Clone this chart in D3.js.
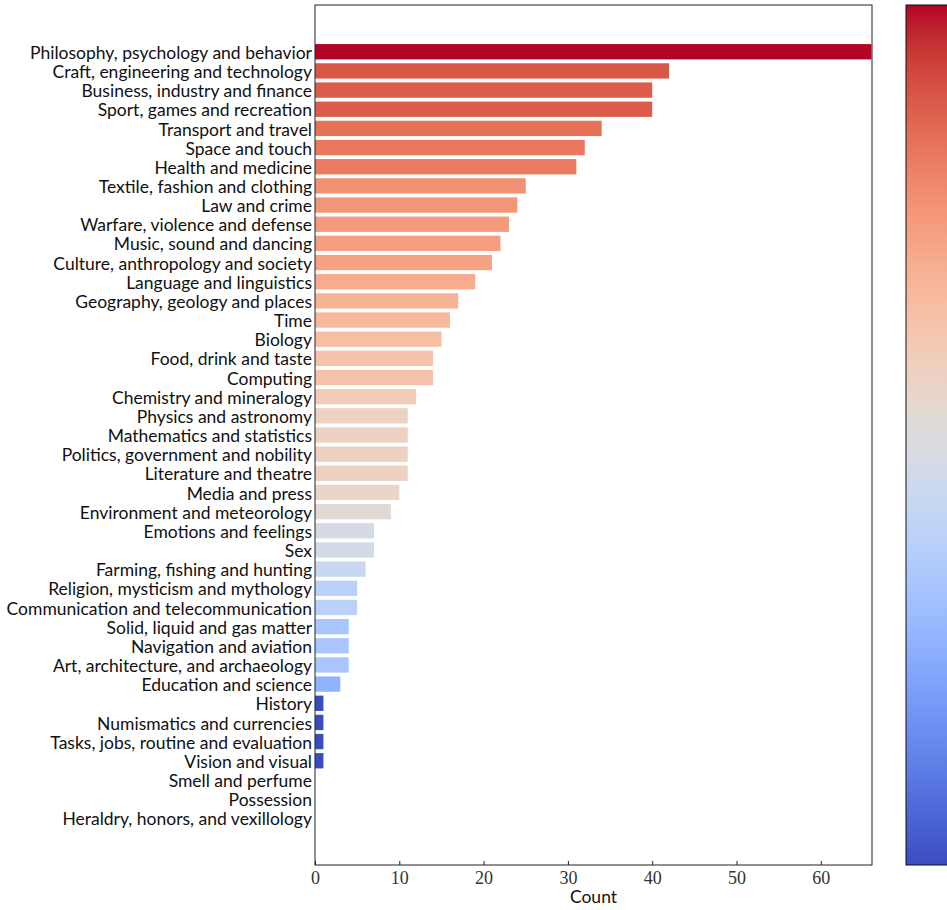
<!DOCTYPE html>
<html>
<head>
<meta charset="utf-8">
<script src="https://cdn.jsdelivr.net/npm/d3@7"></script>
<style>
  html, body { margin: 0; padding: 0; background: #fff; }
  svg { display: block; }
</style>
</head>
<body>
<svg id="chart" width="947" height="910"></svg>
<script>
// Topic categories, ordered from most to least frequent
const categories = [
  "Philosophy, psychology and behavior",
  "Craft, engineering and technology",
  "Business, industry and finance",
  "Sport, games and recreation",
  "Transport and travel",
  "Space and touch",
  "Health and medicine",
  "Textile, fashion and clothing",
  "Law and crime",
  "Warfare, violence and defense",
  "Music, sound and dancing",
  "Culture, anthropology and society",
  "Language and linguistics",
  "Geography, geology and places",
  "Time",
  "Biology",
  "Food, drink and taste",
  "Computing",
  "Chemistry and mineralogy",
  "Physics and astronomy",
  "Mathematics and statistics",
  "Politics, government and nobility",
  "Literature and theatre",
  "Media and press",
  "Environment and meteorology",
  "Emotions and feelings",
  "Sex",
  "Farming, fishing and hunting",
  "Religion, mysticism and mythology",
  "Communication and telecommunication",
  "Solid, liquid and gas matter",
  "Navigation and aviation",
  "Art, architecture, and archaeology",
  "Education and science",
  "History",
  "Numismatics and currencies",
  "Tasks, jobs, routine and evaluation",
  "Vision and visual",
  "Smell and perfume",
  "Possession",
  "Heraldry, honors, and vexillology"
];

const counts = [
  66, 42, 40, 40, 34, 32, 31, 25, 24, 23, 22, 21, 19, 17, 16, 15, 14, 14,
  12, 11, 11, 11, 11, 10, 9, 7, 7, 6, 5, 5, 4, 4, 4, 3, 1, 1, 1, 1, 0, 0, 0
];

const xTicks = [0, 10, 20, 30, 40, 50, 60];
const xMax = 66.07;

// Moreland cool-warm diverging colormap control points
const coolwarmStops = [
  "#3b4cc0", "#445acc", "#4d68d7", "#5775e1", "#6282ea", "#6c8ef1",
  "#779af7", "#82a5fb", "#8db0fe", "#98b9ff", "#a3c2ff", "#aec9fd",
  "#b8d0f9", "#c2d5f4", "#ccd9ee", "#d5dbe6", "#dddddd", "#e5d8d1",
  "#ecd3c5", "#f1ccb9", "#f5c4ad", "#f7bba0", "#f7b194", "#f7a687",
  "#f49a7b", "#f18d6f", "#ec7f63", "#e57058", "#de604d", "#d55042",
  "#cb3e38", "#c0282f", "#b40426"
];
const coolwarm = d3.interpolateRgbBasis(coolwarmStops);

const svg = d3.select("#chart");

const plot = { left: 315, right: 872, top: 5, bottom: 865 };

const x = d3.scaleLinear().domain([0, xMax]).range([plot.left, plot.right]);
const y = d3.scaleBand()
  .domain(categories)
  .range([plot.top, plot.bottom])
  .paddingInner(0.2)
  .paddingOuter(2.04);

// Log-scaled colour normalisation between 1 and the maximum count
const logNorm = d3.scaleLog().domain([1, d3.max(counts)]).range([0, 1]).clamp(true);
const colorFor = v => coolwarm(logNorm(Math.max(v, 1)));

const labelFont = "'Lato', 'Liberation Sans', sans-serif";
const tickFont = "'Liberation Serif', 'DejaVu Serif', serif";

// Clip so bars stay within the axes frame
svg.append("defs").append("clipPath").attr("id", "plot-clip")
  .append("rect")
  .attr("x", plot.left).attr("y", plot.top)
  .attr("width", plot.right - plot.left).attr("height", plot.bottom - plot.top);

const data = categories.map((c, i) => ({ c, v: counts[i] }));

svg.append("g").attr("clip-path", "url(#plot-clip)")
  .selectAll("rect")
  .data(data.filter(d => d.v > 0))
  .join("rect")
  .attr("x", x(0))
  .attr("y", d => y(d.c))
  .attr("width", d => x(d.v) - x(0))
  .attr("height", y.bandwidth())
  .attr("fill", d => colorFor(d.v));

// Axes frame
svg.append("rect")
  .attr("x", plot.left).attr("y", plot.top)
  .attr("width", plot.right - plot.left).attr("height", plot.bottom - plot.top)
  .attr("fill", "none")
  .attr("stroke", "#222")
  .attr("stroke-width", 1);

// Category labels (no tick marks)
const yAxis = d3.axisLeft(y).tickSize(0).tickPadding(3);
const gy = svg.append("g").attr("transform", `translate(${plot.left},1.5)`).call(yAxis);
gy.select(".domain").remove();
gy.selectAll("text")
  .attr("font-family", labelFont)
  .attr("font-size", 17.5)
  .attr("fill", "#111");

// Bottom axis with inward ticks
const xAxis = d3.axisBottom(x).tickValues(xTicks).tickSize(-4)
  .tickFormat(d3.format("d"));
const gx = svg.append("g").attr("transform", `translate(0,${plot.bottom})`).call(xAxis);
gx.select(".domain").remove();
gx.selectAll("line").attr("stroke", "#222");
gx.selectAll("text")
  .attr("y", 19)
  .attr("dy", null)
  .attr("font-family", tickFont)
  .attr("font-size", 18)
  .attr("fill", "#333");

svg.append("text")
  .attr("x", (plot.left + plot.right) / 2)
  .attr("y", 903)
  .attr("text-anchor", "middle")
  .attr("font-family", labelFont)
  .attr("font-size", 17.5)
  .attr("fill", "#111")
  .text("Count");

// Colour bar
const cb = { left: 906, right: 975, top: 5, bottom: 865 };
const grad = svg.select("defs").append("linearGradient")
  .attr("id", "cb-grad")
  .attr("x1", 0).attr("y1", 1).attr("x2", 0).attr("y2", 0);
d3.range(0, 1.0001, 0.02).forEach(t => {
  grad.append("stop").attr("offset", t).attr("stop-color", coolwarm(t));
});
svg.append("rect")
  .attr("x", cb.left).attr("y", cb.top)
  .attr("width", cb.right - cb.left).attr("height", cb.bottom - cb.top)
  .attr("fill", "url(#cb-grad)")
  .attr("stroke", "#111")
  .attr("stroke-width", 1);
</script>
</body>
</html>
